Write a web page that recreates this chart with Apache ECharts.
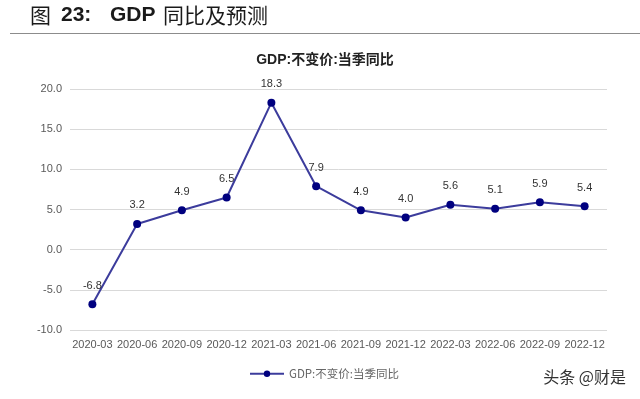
<!DOCTYPE html>
<html>
<head>
<meta charset="utf-8">
<script src="https://cdn.jsdelivr.net/npm/echarts@6/dist/echarts.min.js"></script>
<style>
  html, body { margin: 0; padding: 0; background: #fff; }
  #chart { width: 640px; height: 399px; }
</style>
</head>
<body>
<div id="chart"></div>
<script>
// quarterly GDP yoy, constant price
const categories = ['2020-03', '2020-06', '2020-09', '2020-12', '2021-03', '2021-06',
  '2021-09', '2021-12', '2022-03', '2022-06', '2022-09', '2022-12'];
const gdpYoy = [-6.8, 3.2, 4.9, 6.5, 18.3, 7.9, 4.9, 4.0, 5.6, 5.1, 5.9, 5.4];
const seriesName = 'GDP:不变价:当季同比';
const yMin = -10;
const yMax = 20;
const yStep = 5;

const chart = echarts.init(document.getElementById('chart'));

// page heading pieces (figure no. + caption)
const headCn = '21px "Noto Sans CJK SC"';
const headBold = 'bold 21px "Liberation Sans"';
const heading = [
  { x: 30, text: '图', font: headCn },
  { x: 61, text: '23:', font: headBold },
  { x: 110, text: 'GDP', font: headBold },
  { x: 163, text: '同比及预测', font: headCn }
].map(h => ({
  type: 'text',
  x: h.x,
  y: 15,
  style: { text: h.text, font: h.font, fill: '#1a1a1a', verticalAlign: 'middle' }
}));

chart.setOption({
  animation: false,
  backgroundColor: '#fff',
  textStyle: { fontFamily: 'Liberation Sans, Arial, Noto Sans CJK SC' },
  title: {
    text: seriesName,
    left: 320,
    textAlign: 'center',
    top: 48,
    textStyle: {
      fontSize: 14,
      fontWeight: 'bold',
      color: '#222',
      fontFamily: 'Liberation Sans, Noto Sans CJK SC'
    }
  },
  graphic: heading.concat([
    {
      type: 'line',
      shape: { x1: 10, y1: 33.5, x2: 640, y2: 33.5 },
      style: { stroke: '#8c8c8c', lineWidth: 1.2 }
    },
    {
      type: 'text',
      right: 14,
      top: 369,
      style: {
        text: '头条 @财是',
        font: '16px "Noto Sans CJK SC"',
        fill: '#333'
      }
    }
  ]),
  legend: {
    data: [seriesName],
    top: 368,
    left: 249,
    padding: 0,
    itemWidth: 34,
    itemHeight: 8,
    itemGap: 4,
    textStyle: { fontSize: 11.5, color: '#666', fontFamily: 'Noto Sans CJK SC' }
  },
  grid: {
    left: 70,
    right: 33,
    top: 89,
    bottom: 69,
    containLabel: false
  },
  xAxis: {
    type: 'category',
    data: categories,
    boundaryGap: true,
    axisLine: { show: false },
    axisTick: { show: false },
    axisLabel: {
      interval: 0,
      color: '#595959',
      fontSize: 11,
      margin: 9
    }
  },
  yAxis: {
    type: 'value',
    min: yMin,
    max: yMax,
    interval: yStep,
    axisLine: { show: false },
    axisTick: { show: false },
    splitLine: { lineStyle: { color: '#d9d9d9', width: 1 } },
    axisLabel: {
      color: '#595959',
      fontSize: 11,
      margin: 8,
      formatter: v => v.toFixed(1)
    }
  },
  series: [
    {
      name: seriesName,
      type: 'line',
      data: gdpYoy,
      symbol: 'circle',
      symbolSize: 8,
      itemStyle: { color: '#00007f' },
      lineStyle: { color: '#3c3c9c', width: 2 },
      label: {
        show: true,
        position: 'top',
        distance: 9,
        color: '#333',
        fontSize: 11,
        formatter: p => p.value.toFixed(1)
      }
    }
  ]
});
</script>
</body>
</html>
